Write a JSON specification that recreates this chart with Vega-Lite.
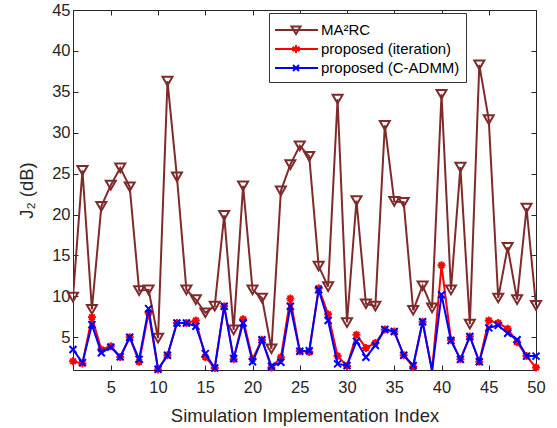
{
  "$schema": "https://vega.github.io/schema/vega-lite/v6.json",
  "width": 463,
  "height": 360,
  "autosize": {"type": "none"},
  "padding": {"left": 73, "top": 10, "right": 21, "bottom": 58},
  "background": "white",
  "config": {
    "view": {"stroke": "#262626", "strokeWidth": 1},
    "axis": {
      "labelFont": "Liberation Sans", "labelFontSize": 16.5, "labelColor": "#262626",
      "titleFont": "Liberation Sans", "titleFontSize": 18.5, "titleFontWeight": "normal", "titleColor": "#262626",
      "domainColor": "#262626", "tickColor": "#262626", "grid": false, "tickSize": -5,
      "labelFlush": false, "labelOverlap": false
    },
    "legend": {
      "labelFont": "Liberation Sans", "labelFontSize": 15, "labelColor": "#000000"
    }
  },
  "data": {"values": [
    {"index":1,"series":"MA²RC","J2":9.9},{"index":2,"series":"MA²RC","J2":25.4},{"index":3,"series":"MA²RC","J2":8.4},{"index":4,"series":"MA²RC","J2":21.0},{"index":5,"series":"MA²RC","J2":23.6},
    {"index":6,"series":"MA²RC","J2":25.7},{"index":7,"series":"MA²RC","J2":23.4},{"index":8,"series":"MA²RC","J2":10.7},{"index":9,"series":"MA²RC","J2":10.8},{"index":10,"series":"MA²RC","J2":4.9},
    {"index":11,"series":"MA²RC","J2":36.3},{"index":12,"series":"MA²RC","J2":24.6},{"index":13,"series":"MA²RC","J2":10.8},{"index":14,"series":"MA²RC","J2":9.6},{"index":15,"series":"MA²RC","J2":8.0},
    {"index":16,"series":"MA²RC","J2":8.8},{"index":17,"series":"MA²RC","J2":19.9},{"index":18,"series":"MA²RC","J2":5.9},{"index":19,"series":"MA²RC","J2":23.5},{"index":20,"series":"MA²RC","J2":10.8},
    {"index":21,"series":"MA²RC","J2":9.8},{"index":22,"series":"MA²RC","J2":3.6},{"index":23,"series":"MA²RC","J2":22.9},{"index":24,"series":"MA²RC","J2":26.1},{"index":25,"series":"MA²RC","J2":28.4},
    {"index":26,"series":"MA²RC","J2":27.1},{"index":27,"series":"MA²RC","J2":13.7},{"index":28,"series":"MA²RC","J2":11.2},{"index":29,"series":"MA²RC","J2":34.1},{"index":30,"series":"MA²RC","J2":6.8},
    {"index":31,"series":"MA²RC","J2":21.7},{"index":32,"series":"MA²RC","J2":9.1},{"index":33,"series":"MA²RC","J2":8.8},{"index":34,"series":"MA²RC","J2":30.9},{"index":35,"series":"MA²RC","J2":21.6},
    {"index":36,"series":"MA²RC","J2":21.5},{"index":37,"series":"MA²RC","J2":8.3},{"index":38,"series":"MA²RC","J2":11.3},{"index":39,"series":"MA²RC","J2":8.6},{"index":40,"series":"MA²RC","J2":34.7},
    {"index":41,"series":"MA²RC","J2":10.8},{"index":42,"series":"MA²RC","J2":25.8},{"index":43,"series":"MA²RC","J2":6.6},{"index":44,"series":"MA²RC","J2":38.3},{"index":45,"series":"MA²RC","J2":31.6},
    {"index":46,"series":"MA²RC","J2":9.8},{"index":47,"series":"MA²RC","J2":16.0},{"index":48,"series":"MA²RC","J2":9.6},{"index":49,"series":"MA²RC","J2":20.8},{"index":50,"series":"MA²RC","J2":8.9},
    {"index":1,"series":"proposed (iteration)","J2":2.06},{"index":2,"series":"proposed (iteration)","J2":1.8},{"index":3,"series":"proposed (iteration)","J2":7.45},{"index":4,"series":"proposed (iteration)","J2":3.5},{"index":5,"series":"proposed (iteration)","J2":3.9},
    {"index":6,"series":"proposed (iteration)","J2":2.6},{"index":7,"series":"proposed (iteration)","J2":5.0},{"index":8,"series":"proposed (iteration)","J2":2.0},{"index":9,"series":"proposed (iteration)","J2":8.0},{"index":10,"series":"proposed (iteration)","J2":1.05},
    {"index":11,"series":"proposed (iteration)","J2":2.8},{"index":12,"series":"proposed (iteration)","J2":6.75},{"index":13,"series":"proposed (iteration)","J2":6.75},{"index":14,"series":"proposed (iteration)","J2":7.05},{"index":15,"series":"proposed (iteration)","J2":2.6},
    {"index":16,"series":"proposed (iteration)","J2":1.25},{"index":17,"series":"proposed (iteration)","J2":8.8},{"index":18,"series":"proposed (iteration)","J2":2.3},{"index":19,"series":"proposed (iteration)","J2":7.2},{"index":20,"series":"proposed (iteration)","J2":2.35},
    {"index":21,"series":"proposed (iteration)","J2":4.7},{"index":22,"series":"proposed (iteration)","J2":1.3},{"index":23,"series":"proposed (iteration)","J2":2.55},{"index":24,"series":"proposed (iteration)","J2":9.75},{"index":25,"series":"proposed (iteration)","J2":3.3},
    {"index":26,"series":"proposed (iteration)","J2":3.2},{"index":27,"series":"proposed (iteration)","J2":11.0},{"index":28,"series":"proposed (iteration)","J2":7.8},{"index":29,"series":"proposed (iteration)","J2":2.7},{"index":30,"series":"proposed (iteration)","J2":1.5},
    {"index":31,"series":"proposed (iteration)","J2":5.3},{"index":32,"series":"proposed (iteration)","J2":3.7},{"index":33,"series":"proposed (iteration)","J2":4.3},{"index":34,"series":"proposed (iteration)","J2":5.95},{"index":35,"series":"proposed (iteration)","J2":5.7},
    {"index":36,"series":"proposed (iteration)","J2":2.8},{"index":37,"series":"proposed (iteration)","J2":1.4},{"index":38,"series":"proposed (iteration)","J2":6.9},{"index":39,"series":"proposed (iteration)","J2":0.9},{"index":40,"series":"proposed (iteration)","J2":13.8},
    {"index":41,"series":"proposed (iteration)","J2":4.7},{"index":42,"series":"proposed (iteration)","J2":2.3},{"index":43,"series":"proposed (iteration)","J2":5.1},{"index":44,"series":"proposed (iteration)","J2":2.0},{"index":45,"series":"proposed (iteration)","J2":7.05},
    {"index":46,"series":"proposed (iteration)","J2":6.75},{"index":47,"series":"proposed (iteration)","J2":6.05},{"index":48,"series":"proposed (iteration)","J2":4.4},{"index":49,"series":"proposed (iteration)","J2":2.7},{"index":50,"series":"proposed (iteration)","J2":1.3},
    {"index":1,"series":"proposed (C-ADMM)","J2":3.5},{"index":2,"series":"proposed (C-ADMM)","J2":1.9},{"index":3,"series":"proposed (C-ADMM)","J2":6.55},{"index":4,"series":"proposed (C-ADMM)","J2":3.1},{"index":5,"series":"proposed (C-ADMM)","J2":3.8},
    {"index":6,"series":"proposed (C-ADMM)","J2":2.6},{"index":7,"series":"proposed (C-ADMM)","J2":5.0},{"index":8,"series":"proposed (C-ADMM)","J2":2.3},{"index":9,"series":"proposed (C-ADMM)","J2":8.5},{"index":10,"series":"proposed (C-ADMM)","J2":1.1},
    {"index":11,"series":"proposed (C-ADMM)","J2":2.8},{"index":12,"series":"proposed (C-ADMM)","J2":6.75},{"index":13,"series":"proposed (C-ADMM)","J2":6.75},{"index":14,"series":"proposed (C-ADMM)","J2":6.35},{"index":15,"series":"proposed (C-ADMM)","J2":3.0},
    {"index":16,"series":"proposed (C-ADMM)","J2":1.25},{"index":17,"series":"proposed (C-ADMM)","J2":8.8},{"index":18,"series":"proposed (C-ADMM)","J2":2.4},{"index":19,"series":"proposed (C-ADMM)","J2":6.75},{"index":20,"series":"proposed (C-ADMM)","J2":2.0},
    {"index":21,"series":"proposed (C-ADMM)","J2":4.7},{"index":22,"series":"proposed (C-ADMM)","J2":1.45},{"index":23,"series":"proposed (C-ADMM)","J2":1.95},{"index":24,"series":"proposed (C-ADMM)","J2":8.8},{"index":25,"series":"proposed (C-ADMM)","J2":3.3},
    {"index":26,"series":"proposed (C-ADMM)","J2":3.35},{"index":27,"series":"proposed (C-ADMM)","J2":10.8},{"index":28,"series":"proposed (C-ADMM)","J2":7.05},{"index":29,"series":"proposed (C-ADMM)","J2":1.75},{"index":30,"series":"proposed (C-ADMM)","J2":1.55},
    {"index":31,"series":"proposed (C-ADMM)","J2":4.5},{"index":32,"series":"proposed (C-ADMM)","J2":2.55},{"index":33,"series":"proposed (C-ADMM)","J2":4.0},{"index":34,"series":"proposed (C-ADMM)","J2":5.95},{"index":35,"series":"proposed (C-ADMM)","J2":5.7},
    {"index":36,"series":"proposed (C-ADMM)","J2":2.8},{"index":37,"series":"proposed (C-ADMM)","J2":1.55},{"index":38,"series":"proposed (C-ADMM)","J2":6.9},{"index":39,"series":"proposed (C-ADMM)","J2":0.9},{"index":40,"series":"proposed (C-ADMM)","J2":10.2},
    {"index":41,"series":"proposed (C-ADMM)","J2":4.6},{"index":42,"series":"proposed (C-ADMM)","J2":2.3},{"index":43,"series":"proposed (C-ADMM)","J2":5.1},{"index":44,"series":"proposed (C-ADMM)","J2":2.0},{"index":45,"series":"proposed (C-ADMM)","J2":6.15},
    {"index":46,"series":"proposed (C-ADMM)","J2":6.45},{"index":47,"series":"proposed (C-ADMM)","J2":5.5},{"index":48,"series":"proposed (C-ADMM)","J2":4.7},{"index":49,"series":"proposed (C-ADMM)","J2":2.7},{"index":50,"series":"proposed (C-ADMM)","J2":2.7}
  ]},
  "resolve": {"axis": {"x": "independent", "y": "independent"}},
  "layer": [
    {
      "transform": [{"filter": "datum.series === 'MA²RC'"}],
      "mark": {"type": "line", "strokeWidth": 2, "clip": true},
      "encoding": {
        "x": {"field": "index", "type": "quantitative", "scale": {"domain": [1, 50], "nice": false, "zero": false},
              "axis": {"orient": "bottom", "values": [5,10,15,20,25,30,35,40,45,50], "title": "Simulation Implementation Index", "labelPadding": 14, "titlePadding": 11, "labelOverlap": false}},
        "y": {"field": "J2", "type": "quantitative", "scale": {"domain": [1, 45], "nice": false, "zero": false},
              "axis": {"orient": "right", "values": [5,10,15,20,25,30,35,40,45], "labels": false, "title": null}},
        "color": {"field": "series", "type": "nominal",
          "scale": {"domain": ["MA²RC", "proposed (iteration)", "proposed (C-ADMM)"], "range": ["#7F2B2B", "#FF0000", "#0000FF"]},
          "legend": {
            "title": null, "orient": "none", "legendX": 196, "legendY": 3,
            "padding": 6, "rowPadding": 0, "labelOffset": 24, "symbolSize": 400, "symbolStrokeWidth": 2,
            "strokeColor": "#333333", "fillColor": "#FFFFFF", "cornerRadius": 0,
            "labelFont": "Liberation Sans", "labelFontSize": 15, "labelColor": "#000000",
            "encode": {"symbols": {"update": {
              "shape": {"signal": "datum.value === 'MA²RC' ? 'M-1.1,0H3.2M0.55,-0.35H1.45L1,0.4Z' : datum.value === 'proposed (iteration)' ? 'M-1.1,0H3.2M1,-0.4V0.4M0.65,-0.22L1.35,0.22M0.65,0.22L1.35,-0.22' : 'M-1.1,0H3.2M0.7,-0.3L1.3,0.3M0.7,0.3L1.3,-0.3'"},
              "fill": {"value": "transparent"},
              "strokeWidth": {"value": 2}
            }}}
          }}
      }
    },
    {
      "transform": [{"filter": "datum.series === 'MA²RC'"}],
      "mark": {"type": "point", "shape": "triangle-down", "size": 100, "filled": false, "strokeWidth": 2, "opacity": 1, "clip": false},
      "encoding": {
        "x": {"field": "index", "type": "quantitative", "axis": {"orient": "top", "values": [5,10,15,20,25,30,35,40,45,50], "labels": false, "title": null}},
        "y": {"field": "J2", "type": "quantitative", "axis": {"orient": "left", "values": [45,40,35,30,25,20,15,10,5], "title": "J₂ (dB)", "labelPadding": 8, "titlePadding": 15, "labelOverlap": false, "labelBound": false}},
        "color": {"field": "series", "type": "nominal"}
      }
    },
    {
      "transform": [{"filter": "datum.series === 'proposed (iteration)'"}],
      "mark": {"type": "line", "strokeWidth": 2, "clip": true},
      "encoding": {
        "x": {"field": "index", "type": "quantitative", "axis": null},
        "y": {"field": "J2", "type": "quantitative", "axis": null},
        "color": {"field": "series", "type": "nominal"}
      }
    },
    {
      "transform": [{"filter": "datum.series === 'proposed (iteration)' && datum.J2 >= 1"}],
      "mark": {"type": "point", "shape": "M0,-1V1M-1,0H1M-0.7,-0.7L0.7,0.7M-0.7,0.7L0.7,-0.7", "size": 64, "filled": false, "strokeWidth": 2, "opacity": 1, "clip": false},
      "encoding": {
        "x": {"field": "index", "type": "quantitative", "axis": null},
        "y": {"field": "J2", "type": "quantitative", "axis": null},
        "color": {"field": "series", "type": "nominal"}
      }
    },
    {
      "transform": [{"filter": "datum.series === 'proposed (C-ADMM)'"}],
      "mark": {"type": "line", "strokeWidth": 2, "clip": true},
      "encoding": {
        "x": {"field": "index", "type": "quantitative", "axis": null},
        "y": {"field": "J2", "type": "quantitative", "axis": null},
        "color": {"field": "series", "type": "nominal"}
      }
    },
    {
      "transform": [{"filter": "datum.series === 'proposed (C-ADMM)' && datum.J2 >= 1"}],
      "mark": {"type": "point", "shape": "M-1,-1L1,1M-1,1L1,-1", "size": 49, "filled": false, "strokeWidth": 2, "opacity": 1, "clip": false},
      "encoding": {
        "x": {"field": "index", "type": "quantitative", "axis": null},
        "y": {"field": "J2", "type": "quantitative", "axis": null},
        "color": {"field": "series", "type": "nominal"}
      }
    }
  ]
}
